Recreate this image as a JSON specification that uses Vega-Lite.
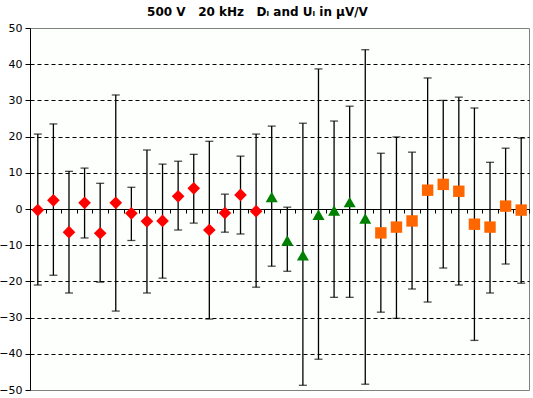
{
  "$schema": "https://vega.github.io/schema/vega-lite/v6.json",
  "width": 499,
  "height": 362,
  "autosize": "none",
  "padding": {"left": 30, "top": 28, "right": 4, "bottom": 8},
  "background": "white",
  "config": {
    "view": {"stroke": "#808080", "strokeWidth": 1, "fill": "#FCFFFC"},
    "font": "DejaVu Sans"
  },
  "title": {
    "text": "500 V\u00a0\u00a0 20 kHz\u00a0\u00a0 Dᵢ and Uᵢ in µV/V",
    "fontSize": 12,
    "fontWeight": "bold",
    "font": "DejaVu Sans",
    "color": "black",
    "anchor": "middle",
    "dx": -22,
    "offset": 3
  },
  "data": {
    "values": [
      {"i": 0, "s": "A", "v": -0.3, "lo": -21.0, "hi": 20.7},
      {"i": 1, "s": "A", "v": 2.4, "lo": -18.3, "hi": 23.5},
      {"i": 2, "s": "A", "v": -6.4, "lo": -23.2, "hi": 10.4},
      {"i": 3, "s": "A", "v": 1.7, "lo": -8.0, "hi": 11.3},
      {"i": 4, "s": "A", "v": -6.7, "lo": -20.2, "hi": 7.1},
      {"i": 5, "s": "A", "v": 1.7, "lo": -28.2, "hi": 31.5},
      {"i": 6, "s": "A", "v": -1.2, "lo": -8.7, "hi": 6.0},
      {"i": 7, "s": "A", "v": -3.4, "lo": -23.2, "hi": 16.3},
      {"i": 8, "s": "A", "v": -3.3, "lo": -19.1, "hi": 12.4},
      {"i": 9, "s": "A", "v": 3.5, "lo": -5.8, "hi": 13.2},
      {"i": 10, "s": "A", "v": 5.7, "lo": -3.9, "hi": 15.1},
      {"i": 11, "s": "A", "v": -5.8, "lo": -30.4, "hi": 18.7},
      {"i": 12, "s": "A", "v": -1.1, "lo": -6.4, "hi": 4.1},
      {"i": 13, "s": "A", "v": 3.9, "lo": -6.9, "hi": 14.6},
      {"i": 14, "s": "A", "v": -0.6, "lo": -21.6, "hi": 20.7},
      {"i": 15, "s": "B", "v": 3.3, "lo": -15.8, "hi": 22.9},
      {"i": 16, "s": "B", "v": -8.7, "lo": -17.2, "hi": 0.5},
      {"i": 17, "s": "B", "v": -12.8, "lo": -48.7, "hi": 23.7},
      {"i": 18, "s": "B", "v": -1.6, "lo": -41.5, "hi": 38.7},
      {"i": 19, "s": "B", "v": -0.4, "lo": -24.4, "hi": 24.3},
      {"i": 20, "s": "B", "v": 1.9, "lo": -24.4, "hi": 28.4},
      {"i": 21, "s": "B", "v": -2.6, "lo": -48.4, "hi": 44.0},
      {"i": 22, "s": "C", "v": -6.6, "lo": -28.5, "hi": 15.4},
      {"i": 23, "s": "C", "v": -5.0, "lo": -30.2, "hi": 19.9},
      {"i": 24, "s": "C", "v": -3.3, "lo": -22.1, "hi": 15.7},
      {"i": 25, "s": "C", "v": 5.2, "lo": -25.7, "hi": 36.2},
      {"i": 26, "s": "C", "v": 6.8, "lo": -16.3, "hi": 30.0},
      {"i": 27, "s": "C", "v": 4.9, "lo": -21.0, "hi": 30.9},
      {"i": 28, "s": "C", "v": -4.2, "lo": -36.3, "hi": 27.9},
      {"i": 29, "s": "C", "v": -5.0, "lo": -23.2, "hi": 12.9},
      {"i": 30, "s": "C", "v": 0.8, "lo": -15.2, "hi": 16.8},
      {"i": 31, "s": "C", "v": -0.3, "lo": -20.5, "hi": 19.6}
    ]
  },
  "encoding": {
    "x": {
      "field": "i",
      "type": "quantitative",
      "scale": {"domain": [-0.5, 31.5], "nice": false, "zero": false},
      "axis": {
        "title": null,
        "labels": false,
        "grid": false,
        "tickCount": 40,
        "values": [-0.5, 0.5, 1.5, 2.5, 3.5, 4.5, 5.5, 6.5, 7.5, 8.5, 9.5, 10.5, 11.5, 12.5, 13.5, 14.5, 15.5, 16.5, 17.5, 18.5, 19.5, 20.5, 21.5, 22.5, 23.5, 24.5, 25.5, 26.5, 27.5, 28.5, 29.5, 30.5, 31.5],
        "tickSize": 4,
        "tickColor": "black",
        "domainColor": "black",
        "offset": -181
      }
    }
  },
  "layer": [
    {
      "mark": {"type": "rule", "color": "black", "strokeWidth": 1.3},
      "encoding": {
        "y": {
          "field": "lo",
          "type": "quantitative",
          "scale": {"domain": [-50, 50], "nice": false},
          "axis": {
            "title": null,
            "tickCount": 12,
            "values": [-50, -40, -30, -20, -10, 0, 10, 20, 30, 40, 50],
            "labelOverlap": false,
            "labelFont": "DejaVu Sans",
            "labelFontSize": 11,
            "labelColor": "black",
            "labelPadding": 3,
            "tickSize": 5,
            "tickColor": "black",
            "domainColor": "black",
            "grid": true,
            "gridColor": "black",
            "gridDash": [4, 3],
            "gridOpacity": {"condition": {"test": "abs(datum.value) == 50", "value": 0}, "value": 1}
          }
        },
        "y2": {"field": "hi"}
      }
    },
    {
      "mark": {"type": "tick", "orient": "horizontal", "color": "black", "size": 8, "thickness": 1.3},
      "encoding": {"y": {"field": "lo", "type": "quantitative"}}
    },
    {
      "mark": {"type": "tick", "orient": "horizontal", "color": "black", "size": 8, "thickness": 1.3},
      "encoding": {"y": {"field": "hi", "type": "quantitative"}}
    },
    {
      "mark": {"type": "point", "filled": true, "opacity": 1},
      "encoding": {
        "y": {"field": "v", "type": "quantitative"},
        "shape": {"field": "s", "type": "nominal", "scale": {"domain": ["A", "B", "C"], "range": ["diamond", "triangle-up", "square"]}, "legend": null},
        "color": {"field": "s", "type": "nominal", "scale": {"domain": ["A", "B", "C"], "range": ["#FF0000", "#008000", "#FF6600"]}, "legend": null},
        "size": {"field": "s", "type": "nominal", "scale": {"domain": ["A", "B", "C"], "range": [160, 130, 90]}, "legend": null}
      }
    }
  ]
}
